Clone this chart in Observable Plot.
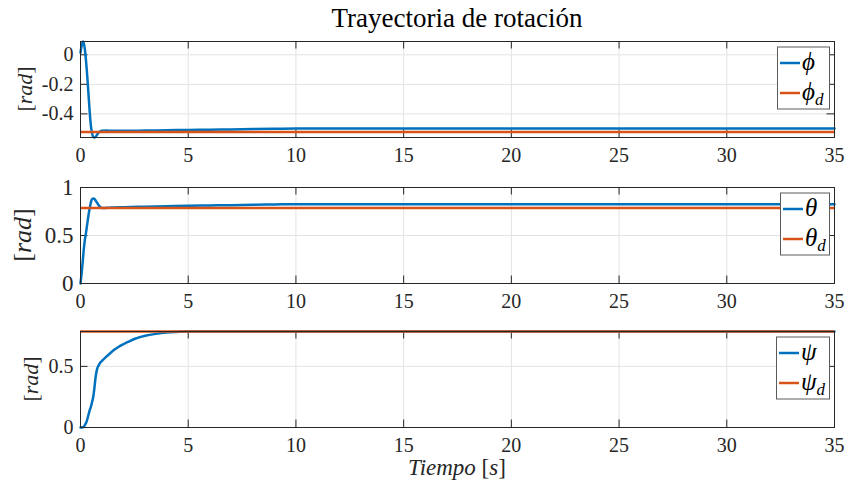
<!DOCTYPE html>
<html>
<head>
<meta charset="utf-8">
<script src="https://cdn.jsdelivr.net/npm/d3@7"></script>
<script src="https://cdn.jsdelivr.net/npm/@observablehq/plot@0.6"></script>
<style>
  body { margin: 0; background: #fff; }
  #chart { position: relative; width: 846px; height: 482px; background: #fff; overflow: hidden; }
  #chart svg { position: absolute; left: 0; }
</style>
</head>
<body>
<div id="chart"></div>
<script>
// Roll angle (rad) and its reference
const tPhi = [0, 0.05, 0.1, 0.13, 0.2, 0.25, 0.3, 0.35, 0.4, 0.45, 0.5, 0.55, 0.6, 0.65, 0.7, 0.8, 0.9, 1.0, 1.2, 1.5,
              2, 3, 4, 5, 6, 7, 8, 9, 10, 15, 20, 25, 30, 35];
const phi = [0.015, 0.06, 0.085, 0.09, 0.04, -0.03, -0.12, -0.22, -0.33, -0.43, -0.5, -0.54, -0.558, -0.56, -0.556, -0.535,
             -0.52, -0.514, -0.513, -0.515, -0.515, -0.513, -0.511, -0.509, -0.507, -0.505, -0.503, -0.501,
             -0.499, -0.499, -0.499, -0.499, -0.499, -0.499];
const phiDes = -0.5236;

// Pitch angle (rad) and its reference
const tTheta = [0, 0.05, 0.1, 0.15, 0.2, 0.25, 0.3, 0.35, 0.4, 0.45, 0.5, 0.55, 0.6, 0.65, 0.7, 0.8, 0.9, 1.0, 1.1, 1.3,
                1.5, 2, 3, 4, 5, 6, 7, 8, 9, 10, 15, 20, 25, 30, 35];
const theta = [0, 0.1, 0.22, 0.35, 0.45, 0.52, 0.6, 0.68, 0.75, 0.81, 0.86, 0.88, 0.885, 0.88, 0.865, 0.83, 0.8, 0.787,
               0.786, 0.79, 0.792, 0.795, 0.8, 0.805, 0.81, 0.813, 0.816, 0.82, 0.823, 0.826, 0.826, 0.826, 0.826,
               0.826, 0.826];
const thetaDes = 0.7854;

// Yaw angle (rad) and its reference
const tPsi = [0, 0.1, 0.15, 0.2, 0.28, 0.35, 0.43, 0.5, 0.54, 0.6, 0.65, 0.7, 0.77, 0.85, 0.93, 1.0, 1.08, 1.2, 1.39, 1.6,
              1.86, 2.2, 2.5, 3.0, 3.5, 4.0, 4.5, 5, 6, 10, 20, 35];
const psi = [0, 0.002, 0.005, 0.02, 0.046, 0.09, 0.142, 0.18, 0.21, 0.26, 0.33, 0.41, 0.478, 0.51, 0.533, 0.545, 0.56,
             0.58, 0.61, 0.64, 0.67, 0.7, 0.724, 0.75, 0.766, 0.777, 0.782, 0.785, 0.7854, 0.7854, 0.7854, 0.7854];
const psiDes = 0.7854;

// Axis limits and ticks
const xLim = [0, 35];
const xTicks = [0, 5, 10, 15, 20, 25, 30, 35];
const phiLim = [-0.56, 0.09];
const phiTicks = [-0.4, -0.2, 0];
const thetaLim = [0, 1];
const thetaTicks = [0, 0.5, 1];
const psiLim = [0, 0.7854];
const psiTicks = [0, 0.5];

// Text
const title = "Trayectoria de rotación";
const xLabelWord = "Tiempo ";
const xLabelUnit = "s";
const yLabelUnit = "rad";
const legendNames = [["ϕ", "ϕ"], ["θ", "θ"], ["ψ", "ψ"]];

const BLUE = "#0072BD";
const ORANGE = "#D95319";
const INK = "#262626";
const GRID = "#e3e3e3";
const SERIF = "'Liberation Serif', 'Times New Roman', 'DejaVu Serif', serif";

const W = 846, ML = 80, MR = 12, MT = 12, MB = 32, innerH = 96;
const innerW = W - ML - MR;
const TICK = 7.5;

const fmt = d => d === 0 ? "0" : String(d).replace("\u2212", "-");

const panels = [
  {top: 41, t: tPhi, v: phi, des: phiDes, lim: phiLim, ticks: phiTicks, tickFont: 20,
   ylab: {x: 24, size: 22}, leg: {w: 52}},
  {top: 187, t: tTheta, v: theta, des: thetaDes, lim: thetaLim, ticks: thetaTicks, tickFont: 23,
   ylab: {x: 22, size: 26}, leg: {w: 49}},
  {top: 331, t: tPsi, v: psi, des: psiDes, lim: psiLim, ticks: psiTicks, tickFont: 20,
   ylab: {x: 30, size: 22}, leg: {w: 53}}
];

const chart = document.getElementById("chart");

panels.forEach(p => {
  const data = p.t.map((t, i) => ({t, v: p.v[i]}));
  const svg = Plot.plot({
    width: W,
    height: MT + innerH + MB,
    marginLeft: ML, marginRight: MR, marginTop: MT, marginBottom: MB,
    style: {fontFamily: SERIF, fontSize: "20px", color: INK, background: "transparent", overflow: "visible"},
    x: {domain: xLim},
    y: {domain: p.lim},
    marks: [
      Plot.gridX(xTicks, {stroke: GRID, strokeOpacity: 1}),
      Plot.gridY(p.ticks, {stroke: GRID, strokeOpacity: 1}),
      // inward ticks on all four sides
      Plot.tickX(xTicks, {x: d => d, insetTop: innerH - TICK, stroke: INK}),
      Plot.tickX(xTicks, {x: d => d, insetBottom: innerH - TICK, stroke: INK}),
      Plot.tickY(p.ticks, {y: d => d, insetRight: innerW - TICK, stroke: INK}),
      Plot.tickY(p.ticks, {y: d => d, insetLeft: innerW - TICK, stroke: INK}),
      Plot.line(data, {x: "t", y: "v", stroke: BLUE, strokeWidth: 2.5, curve: "monotone-x"}),
      Plot.ruleY([p.des], {stroke: ORANGE, strokeWidth: 2.5}),
      Plot.frame({stroke: INK}),
      Plot.axisX(xTicks, {tickSize: 0, tickPadding: 10, label: null, fontSize: 20, tickFormat: fmt}),
      Plot.axisY(p.ticks, {tickSize: 0, tickPadding: 7, label: null, fontSize: p.tickFont, tickFormat: fmt})
    ]
  });
  svg.style.top = (p.top - MT) + "px";
  chart.appendChild(svg);
});

// Titles, axis labels and legends
const ov = d3.select(chart).append("svg")
  .attr("width", W).attr("height", 482)
  .style("top", "0px")
  .style("pointer-events", "none")
  .attr("font-family", SERIF);

ov.append("text")
  .attr("x", ML + innerW / 2).attr("y", 27)
  .attr("text-anchor", "middle")
  .attr("font-size", 27)
  .attr("fill", "#000")
  .text(title);

const xl = ov.append("text")
  .attr("x", ML + innerW / 2).attr("y", 475)
  .attr("text-anchor", "middle")
  .attr("font-size", 23)
  .attr("fill", INK);
xl.append("tspan").attr("font-style", "italic").text(xLabelWord);
xl.append("tspan").text("[");
xl.append("tspan").attr("font-style", "italic").text(xLabelUnit);
xl.append("tspan").text("]");

panels.forEach((p, k) => {
  const cy = p.top + innerH / 2;
  const yl = ov.append("text")
    .attr("transform", `translate(${p.ylab.x},${cy}) rotate(-90)`)
    .attr("text-anchor", "middle")
    .attr("dominant-baseline", "central")
    .attr("font-size", p.ylab.size)
    .attr("fill", INK);
  yl.append("tspan").text("[");
  yl.append("tspan").attr("font-style", "italic").text(yLabelUnit);
  yl.append("tspan").text("]");

  const bw = p.leg.w, bh = 62;
  const bx = ML + innerW - 5 - bw, by = p.top + 5.5;
  const g = ov.append("g").attr("transform", `translate(${bx},${by})`);
  g.append("rect").attr("x", 0.5).attr("y", 0.5).attr("width", bw).attr("height", bh)
    .attr("fill", "#fff").attr("stroke", "#5a5a5a").attr("stroke-width", 1);
  [[BLUE, 16.5, false], [ORANGE, 46.5, true]].forEach(([c, ly, sub]) => {
    g.append("line").attr("x1", 3).attr("x2", 23).attr("y1", ly).attr("y2", ly)
      .attr("stroke", c).attr("stroke-width", 2.5);
    const tx = g.append("text").attr("x", 25).attr("y", ly + 7)
      .attr("font-size", 25).attr("font-style", "italic").attr("fill", "#000");
    tx.append("tspan").text(legendNames[k][sub ? 1 : 0]);
    if (sub) tx.append("tspan").attr("font-size", 17).attr("dy", 5).text("d");
  });
});
</script>
</body>
</html>
